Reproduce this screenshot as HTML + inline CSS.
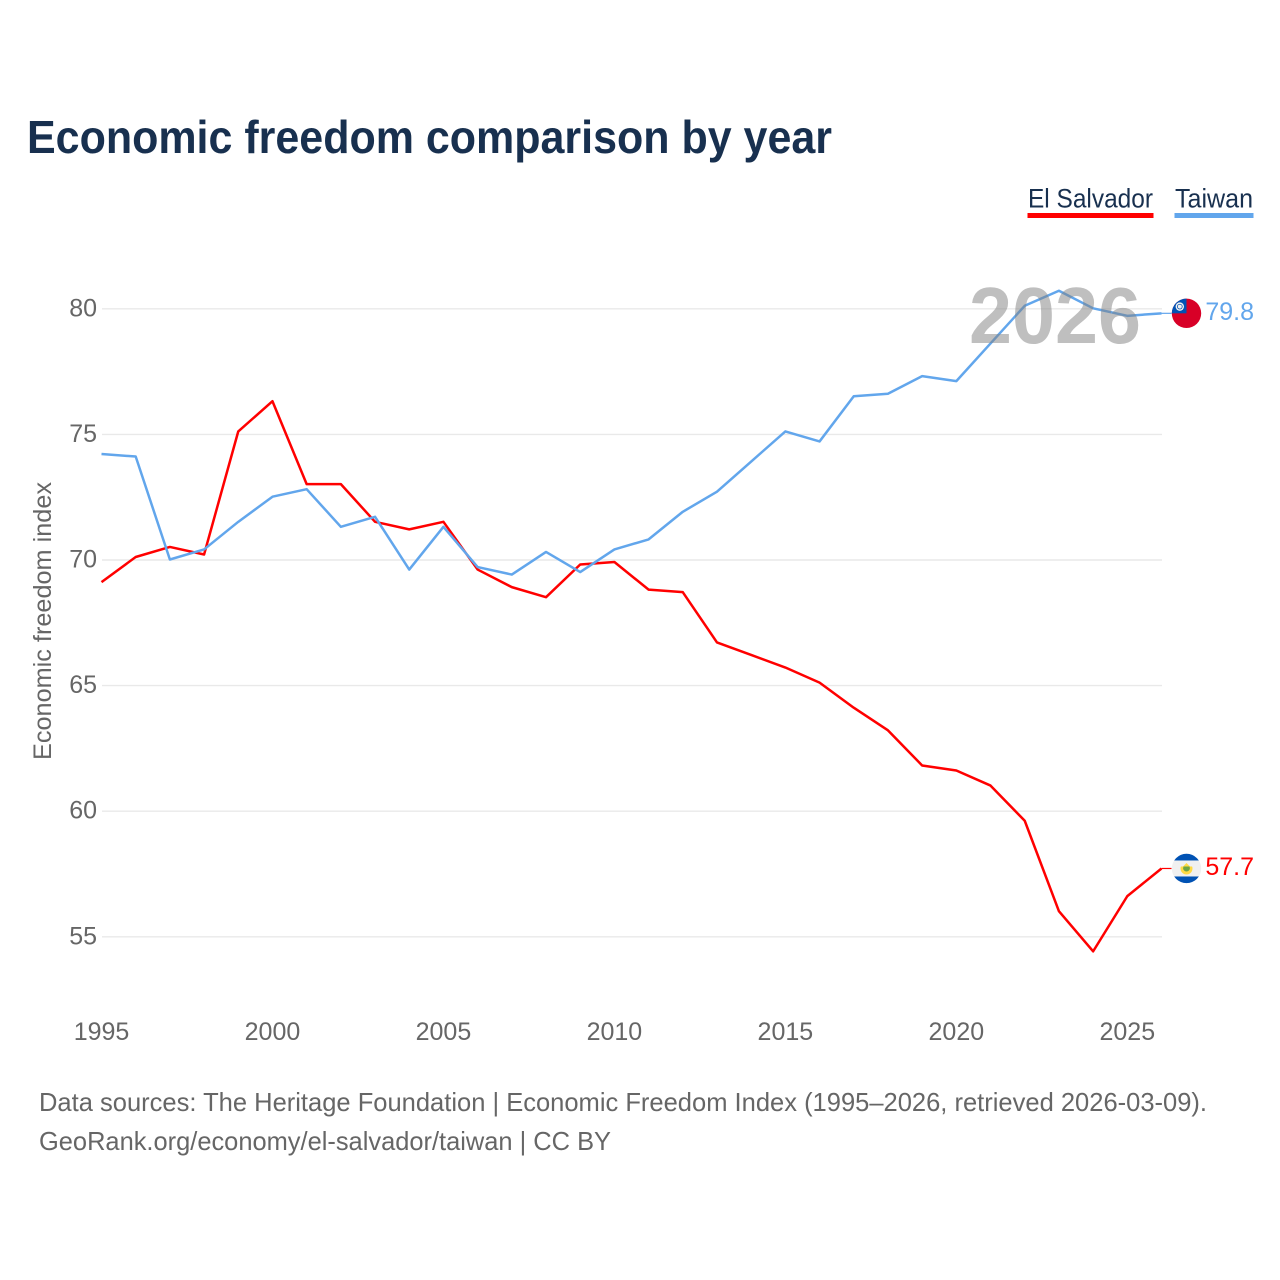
<!DOCTYPE html>
<html lang="en">
<head>
<meta charset="utf-8">
<title>Economic freedom comparison by year</title>
<style>
html,body{margin:0;padding:0;background:#fff;width:1280px;height:1280px;overflow:hidden}
svg{display:block}
text{font-family:"Liberation Sans",sans-serif}
</style>
</head>
<body>
<svg id="chart" xmlns="http://www.w3.org/2000/svg" width="1280" height="1280" viewBox="0 0 1280 1280">
  <rect x="0" y="0" width="1280" height="1280" fill="#fff"/>
  <text x="27" y="153" font-size="46" font-weight="700" fill="#18304f" textLength="805" lengthAdjust="spacingAndGlyphs">Economic freedom comparison by year</text>

  <g>
    <text x="1028" y="207.5" font-size="27" fill="#18304f" textLength="125" lengthAdjust="spacingAndGlyphs">El Salvador</text>
    <rect x="1027.5" y="213" width="126" height="5" fill="#ff0000"/>
  </g>
  <g>
    <text x="1175" y="207.5" font-size="27" fill="#18304f" textLength="78" lengthAdjust="spacingAndGlyphs">Taiwan</text>
    <rect x="1174.5" y="213" width="79" height="5" fill="#62a6ec"/>
  </g>

  <text transform="translate(51 621) rotate(-90)" text-anchor="middle" font-size="25" fill="#666" textLength="278" lengthAdjust="spacingAndGlyphs">Economic freedom index</text>

  <g id="grid"></g>
  <g id="xticks"></g>
  <g id="series"></g>

  <text x="969" y="343" font-size="80" font-weight="700" fill="#7f7f7f" fill-opacity="0.5" textLength="172" lengthAdjust="spacingAndGlyphs">2026</text>

  <defs>
    <clipPath id="flag-clip-tw"><circle cx="0" cy="0" r="14.7"/></clipPath>
    <clipPath id="flag-clip-sv"><circle cx="0" cy="0" r="14.7"/></clipPath>
  </defs>

  <g id="flag-tw" clip-path="url(#flag-clip-tw)">
    <rect x="-15" y="-15" width="30" height="30" fill="#d80027"/>
    <rect x="-15" y="-15" width="15" height="15" fill="#0052b4"/>
    <circle cx="-6.7" cy="-6.7" r="4.2" fill="#f0f0f0"/>
    <circle cx="-6.7" cy="-6.7" r="2.8" fill="#0052b4"/>
    <circle cx="-6.7" cy="-6.7" r="2" fill="#f0f0f0"/>
  </g>
  <g id="flag-sv" clip-path="url(#flag-clip-sv)">
    <rect x="-15" y="-15" width="30" height="30" fill="#f0f0f0"/>
    <rect x="-15" y="-15" width="30" height="7" fill="#0052b4"/>
    <rect x="-15" y="8" width="30" height="7" fill="#0052b4"/>
    <circle cx="0" cy="0" r="6" fill="#ffda44"/>
    <circle cx="0" cy="-0.4" r="3.4" fill="#6da544"/>
    <rect x="-6.5" y="-6.5" width="13" height="4.5" fill="#f0f0f0"/>
    <path d="M-3.5 -2 L0 -5.5 L3.5 -2 Z" fill="#ffda44"/>
  </g>

  <g id="end-labels"></g>

  <text x="39" y="1111" font-size="26" fill="#666" textLength="1168" lengthAdjust="spacingAndGlyphs">Data sources: The Heritage Foundation | Economic Freedom Index (1995–2026, retrieved 2026-03-09).</text>
  <text x="39" y="1150" font-size="26" fill="#666" textLength="572" lengthAdjust="spacingAndGlyphs">GeoRank.org/economy/el-salvador/taiwan | CC BY</text>
</svg>

<script>
const years = [1995,1996,1997,1998,1999,2000,2001,2002,2003,2004,2005,2006,2007,2008,2009,2010,2011,2012,2013,2014,2015,2016,2017,2018,2019,2020,2021,2022,2023,2024,2025,2026];
const elSalvador = [69.1,70.1,70.5,70.2,75.1,76.3,73.0,73.0,71.5,71.2,71.5,69.6,68.9,68.5,69.8,69.9,68.8,68.7,66.7,66.2,65.7,65.1,64.1,63.2,61.8,61.6,61.0,59.6,56.0,54.4,56.6,57.7];
const taiwan = [74.2,74.1,70.0,70.4,71.5,72.5,72.8,71.3,71.7,69.6,71.3,69.7,69.4,70.3,69.5,70.4,70.8,71.9,72.7,73.9,75.1,74.7,76.5,76.6,77.3,77.1,78.6,80.1,80.7,80.0,79.7,79.8];
const yTicks = [55,60,65,70,75,80];
const xTicks = [1995,2000,2005,2010,2015,2020,2025];

const NS = 'http://www.w3.org/2000/svg';
const xScale = function (yr) { return 101.5 + (yr - 1995) * (1161.5 - 101.5) / 31; };
const yScale = function (v) { return 936.3 - (v - 55) * (936.3 - 308.3) / 25; };

const grid = document.getElementById('grid');
yTicks.forEach(function (t) {
  const ln = document.createElementNS(NS, 'line');
  
  
  ln.setAttribute('x1', 102);
  ln.setAttribute('x2', 1162);
  ln.setAttribute('y1', yScale(t) + 0.5);
  ln.setAttribute('y2', yScale(t) + 0.5);
  ln.setAttribute('stroke', '#e9e9e9');
  ln.setAttribute('stroke-width', 1.4);
  grid.appendChild(ln);
  const lb = document.createElementNS(NS, 'text');
  
  
  lb.setAttribute('x', 97);
  lb.setAttribute('y', yScale(t) + 8);
  lb.setAttribute('text-anchor', 'end');
  lb.setAttribute('font-size', 25);
  lb.setAttribute('fill', '#666');
  lb.textContent = t;
  grid.appendChild(lb);
});

const xt = document.getElementById('xticks');
xTicks.forEach(function (t) {
  const lb = document.createElementNS(NS, 'text');
  
  
  lb.setAttribute('x', xScale(t));
  lb.setAttribute('y', 1040);
  lb.setAttribute('text-anchor', 'middle');
  lb.setAttribute('font-size', 25);
  lb.setAttribute('fill', '#666');
  lb.textContent = t;
  xt.appendChild(lb);
});

const seriesGroup = document.getElementById('series');
const endLabels = document.getElementById('end-labels');

function drawSeries(values, color, flagId) {
  const pts = values.map(function (v, i) { return xScale(years[i]).toFixed(2) + ',' + yScale(v).toFixed(2); }).join(' ');
  const pl = document.createElementNS(NS, 'polyline');
  
  
  pl.setAttribute('points', pts);
  pl.setAttribute('fill', 'none');
  pl.setAttribute('stroke', color);
  pl.setAttribute('stroke-width', 2.5);
  pl.setAttribute('stroke-linejoin', 'round');
  seriesGroup.appendChild(pl);

  const last = values[values.length - 1];
  const lx = xScale(years[years.length - 1]);
  const ly = yScale(last);
  const stub = document.createElementNS(NS, 'line');
  
  
  stub.setAttribute('x1', lx);
  stub.setAttribute('x2', lx + 10);
  stub.setAttribute('y1', ly);
  stub.setAttribute('y2', ly);
  stub.setAttribute('stroke', color);
  stub.setAttribute('stroke-width', 1.2);
  seriesGroup.appendChild(stub);

  document.getElementById(flagId).setAttribute('transform', 'translate(1186.5 ' + ly.toFixed(2) + ')');

  const tx = document.createElementNS(NS, 'text');
  
  
  tx.setAttribute('x', 1254);
  tx.setAttribute('y', ly + 6.5);
  tx.setAttribute('text-anchor', 'end');
  tx.setAttribute('font-size', 25);
  tx.setAttribute('fill', color);
  tx.textContent = last.toFixed(1);
  endLabels.appendChild(tx);
}

drawSeries(elSalvador, '#ff0000', 'flag-sv');
drawSeries(taiwan, '#62a6ec', 'flag-tw');
</script>
</body>
</html>
